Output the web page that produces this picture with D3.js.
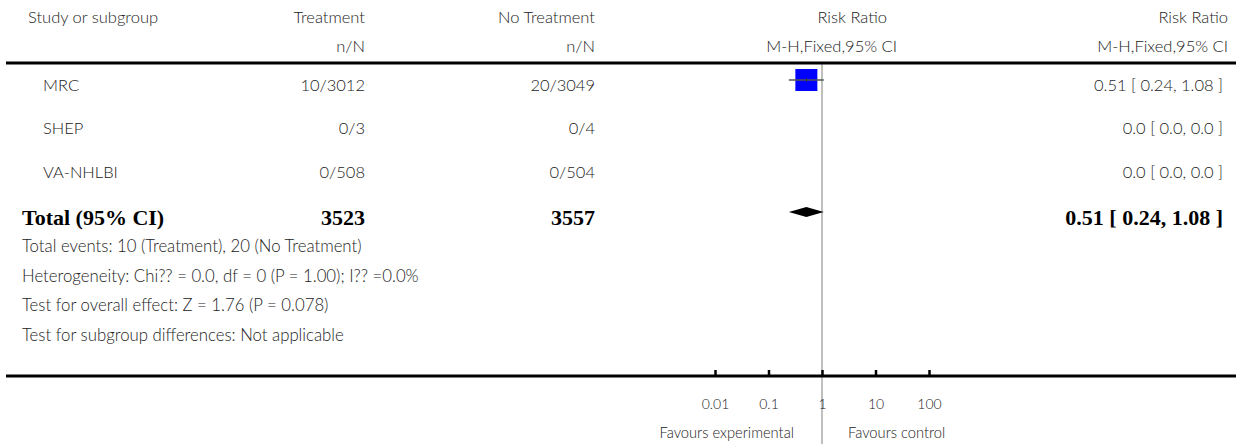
<!DOCTYPE html>
<html>
<head>
<meta charset="utf-8">
<script src="https://cdnjs.cloudflare.com/ajax/libs/d3/7.8.5/d3.min.js"></script>
<style>
  body { margin: 0; background: #fff; }
  svg text { font-family: "Lato", "Open Sans", sans-serif; font-weight: 300; fill: #222; }
  svg text.bold { font-family: "Liberation Serif", "DejaVu Serif", serif; font-weight: bold; fill: #000; }
</style>
</head>
<body>
<svg id="chart"></svg>
<script>
// Study data
const studies = ["MRC", "SHEP", "VA-NHLBI"];
const treatEvents = [10, 0, 0];
const treatTotal = [3012, 3, 508];
const ctrlEvents = [20, 0, 0];
const ctrlTotal = [3049, 4, 504];
const riskRatio = [0.51, 0.0, 0.0];
const ciLow = [0.24, 0.0, 0.0];
const ciHigh = [1.08, 0.0, 0.0];
const ciText = ["0.51 [ 0.24, 1.08 ]", "0.0 [ 0.0, 0.0 ]", "0.0 [ 0.0, 0.0 ]"];

// Pooled result
const totalTreat = 3523;
const totalCtrl = 3557;
const totalRR = 0.51, totalLow = 0.24, totalHigh = 1.08;
const totalText = "0.51 [ 0.24, 1.08 ]";

const footerLines = [
  "Total events: 10 (Treatment), 20 (No Treatment)",
  "Heterogeneity: Chi?? = 0.0, df = 0 (P = 1.00); I?? =0.0%",
  "Test for overall effect: Z = 1.76 (P = 0.078)",
  "Test for subgroup differences: Not applicable"
];

const axisTicks = [0.01, 0.1, 1, 10, 100];
const tickLabels = ["0.01", "0.1", "1", "10", "100"];

const width = 1236, height = 444;
const svg = d3.select("#chart").attr("width", width).attr("height", height);

// Layout
const colStudy = 28, colIndent = 43, colTreat = 365, colCtrl = 595, colRR = 897, colCI = 1228;
const topLine = 63, axisLine = 376;
const fs = 16.5;

// Scales
const x = d3.scaleLog().domain([0.01, 100]).range([715, 929]);
const rowY = d3.scalePoint().domain(studies).range([85, 172]);

// Header
const header = [
  { t: "Study or subgroup", x: colStudy, a: "start" },
  { t: "Treatment", x: colTreat, a: "end" },
  { t: "No Treatment", x: colCtrl, a: "end" },
  { t: "Risk Ratio", x: colRR - 10, a: "end" },
  { t: "Risk Ratio", x: colCI, a: "end" }
];
svg.selectAll("text.h1").data(header).enter().append("text")
  .attr("x", d => d.x).attr("y", 23).attr("text-anchor", d => d.a)
  .style("font-size", fs + "px").text(d => d.t);

const header2 = [
  { t: "n/N", x: colTreat },
  { t: "n/N", x: colCtrl },
  { t: "M-H,Fixed,95% CI", x: colRR },
  { t: "M-H,Fixed,95% CI", x: colCI }
];
svg.selectAll("text.h2").data(header2).enter().append("text")
  .attr("x", d => d.x).attr("y", 52).attr("text-anchor", "end")
  .style("font-size", fs + "px").text(d => d.t);

// Reference line at RR = 1
svg.append("line")
  .attr("x1", x(1)).attr("x2", x(1))
  .attr("y1", topLine).attr("y2", height)
  .attr("stroke", "#aaa").attr("stroke-width", 1.5);

// Thick rules
[topLine, axisLine].forEach(y => {
  svg.append("line")
    .attr("x1", 6).attr("x2", width).attr("y1", y).attr("y2", y)
    .attr("stroke", "#000").attr("stroke-width", 3);
});

// Study rows
const rows = svg.selectAll("g.row").data(studies).enter().append("g")
  .attr("transform", d => `translate(0,${rowY(d)})`);

rows.append("text").attr("x", colIndent).attr("dy", "0.35em")
  .style("font-size", fs + "px").text(d => d);
rows.append("text").attr("x", colTreat).attr("dy", "0.35em").attr("text-anchor", "end")
  .style("font-size", fs + "px").text((d, i) => `${treatEvents[i]}/${treatTotal[i]}`);
rows.append("text").attr("x", colCtrl).attr("dy", "0.35em").attr("text-anchor", "end")
  .style("font-size", fs + "px").text((d, i) => `${ctrlEvents[i]}/${ctrlTotal[i]}`);
rows.append("text").attr("x", colCI - 5).attr("dy", "0.35em").attr("text-anchor", "end")
  .style("font-size", fs + "px").text((d, i) => ciText[i]);

// Point estimates (only estimable studies)
const boxSize = 22;
studies.forEach((s, i) => {
  if (riskRatio[i] <= 0) return;
  const y = rowY(s) - 5;
  svg.append("rect")
    .attr("x", x(riskRatio[i]) - boxSize / 2).attr("y", y - boxSize / 2)
    .attr("width", boxSize).attr("height", boxSize)
    .attr("fill", "#0000ff");
  svg.append("line")
    .attr("x1", x(ciLow[i])).attr("x2", x(ciHigh[i]))
    .attr("y1", y).attr("y2", y)
    .attr("stroke", "#555").attr("stroke-width", 1.5);
  svg.append("line")
    .attr("x1", x(riskRatio[i])).attr("x2", x(riskRatio[i]))
    .attr("y1", y - 2).attr("y2", y + 2)
    .attr("stroke", "#333").attr("stroke-width", 1);
});

// Total row
const totalBase = 225, bfs = 22;
[
  { t: "Total (95% CI)", x: 22, a: "start" },
  { t: totalTreat, x: colTreat, a: "end" },
  { t: totalCtrl, x: colCtrl, a: "end" },
  { t: totalText, x: colCI - 5, a: "end" }
].forEach(d => {
  svg.append("text").attr("class", "bold").attr("x", d.x).attr("y", totalBase)
    .attr("text-anchor", d.a).style("font-size", bfs + "px").text(d.t);
});

// Pooled diamond
const totalY = 212, dh = 5;
svg.append("path")
  .attr("d", `M${x(totalLow)},${totalY} L${x(totalRR)},${totalY - dh} L${x(totalHigh)},${totalY} L${x(totalRR)},${totalY + dh} Z`)
  .attr("fill", "#000");

// Footer notes
svg.selectAll("text.foot").data(footerLines).enter().append("text")
  .attr("x", 22).attr("y", (d, i) => 252 + i * 29.5)
  .style("font-size", "16.75px").text(d => d);

// Axis
const axis = d3.axisBottom(x)
  .tickValues(axisTicks)
  .tickFormat((d, i) => tickLabels[i])
  .tickSize(-6).tickSizeOuter(0).tickPadding(23);
const ag = svg.append("g").attr("transform", `translate(0,${axisLine})`).call(axis);
ag.select(".domain").remove();
ag.selectAll(".tick line").attr("stroke", "#000").attr("stroke-width", 2.5);
ag.selectAll(".tick text")
  .style("font-family", '"Lato", sans-serif').style("font-weight", 300)
  .style("font-size", "14px").attr("fill", "#222");

svg.append("text").attr("x", x(1) - 28).attr("y", 438).attr("text-anchor", "end")
  .style("font-size", "14.7px").text("Favours experimental");
svg.append("text").attr("x", x(1) + 26).attr("y", 438)
  .style("font-size", "14.7px").text("Favours control");
</script>
</body>
</html>
